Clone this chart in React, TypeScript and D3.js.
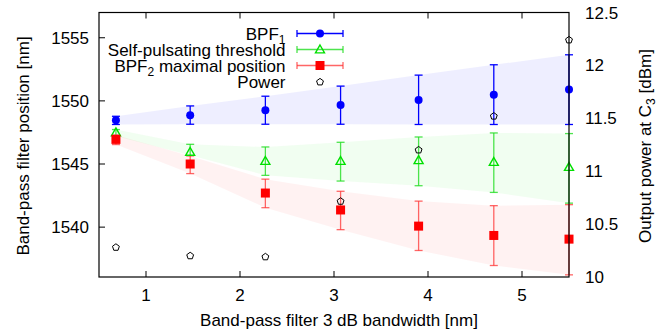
import React from "react";
import * as d3 from "d3";

const bandwidth = [0.68, 1.47, 2.27, 3.07, 3.9, 4.7, 5.5];

const bpf1 = [1548.47, 1548.87, 1549.26, 1549.68, 1550.06, 1550.48, 1550.9];
const bpf1Lo = [1548.13, 1548.15, 1548.15, 1548.15, 1548.13, 1548.13, 1548.13];
const bpf1Hi = [1548.78, 1549.6, 1550.37, 1551.17, 1552.04, 1552.86, 1553.65];

const spt = [1547.5, 1545.95, 1545.24, 1545.24, 1545.3, 1545.16, 1544.76];
const sptLo = [1547.2, 1545.7, 1544.1, 1543.65, 1543.28, 1542.75, 1541.9];
const sptHi = [1547.73, 1546.56, 1546.35, 1546.72, 1547.14, 1547.46, 1547.41];

const bpf2 = [1546.95, 1545.0, 1542.7, 1541.36, 1540.08, 1539.34, 1539.05];
const bpf2Lo = [1546.54, 1544.24, 1541.54, 1539.8, 1538.15, 1536.96, 1536.22];
const bpf2Hi = [1547.3, 1545.64, 1543.8, 1542.84, 1542.06, 1541.7, 1541.78];

const power = [10.28, 10.2, 10.19, 10.715, 11.2, 11.52, 12.24];

const xTicks = [1, 2, 3, 4, 5];
const yTicks = [1540, 1545, 1550, 1555];
const y2Ticks = [10, 10.5, 11, 11.5, 12, 12.5];

const W = 671, H = 330;
const L = 99, R = 569, T = 12.5, B = 277;
const FONT = "'Liberation Sans', Arial, Helvetica, sans-serif";
const FS = 17;

export default function App() {
  const x = d3.scaleLinear().domain([0.5, 5.5]).range([L, R]);
  const y = d3.scaleLinear().domain([1536.05, 1557]).range([B, T]);
  const y2 = d3.scaleLinear().domain([10, 12.5]).range([B, T]);

  const series = [
    { v: bpf1, lo: bpf1Lo, hi: bpf1Hi, color: "#0000ff", bar: "#0000ff", barOp: 1, band: "rgba(0,0,255,0.065)", marker: "circle" },
    { v: spt, lo: sptLo, hi: sptHi, color: "#00e000", bar: "#22dd22", barOp: 0.8, band: "rgba(0,230,0,0.055)", marker: "triangle" },
    { v: bpf2, lo: bpf2Lo, hi: bpf2Hi, color: "#ff0000", bar: "#ff3333", barOp: 0.75, band: "rgba(255,0,0,0.05)", marker: "square" },
  ];

  const area = (lo: number[], hi: number[]) =>
    d3.area<number>()
      .x((_, i) => x(bandwidth[i]))
      .y0((_, i) => y(lo[i]))
      .y1((_, i) => y(hi[i]))(lo.map((_, i) => i)) || "";

  const pentagon = (cx: number, cy: number, r: number) => {
    const pts = d3.range(5).map((k) => {
      const a = -Math.PI / 2 + (k * 2 * Math.PI) / 5;
      return [cx + r * Math.cos(a), cy + r * Math.sin(a)];
    });
    return "M" + pts.map((p) => p.join(",")).join("L") + "Z";
  };

  const marker = (kind: string, cx: number, cy: number, color: string, key: string) => {
    if (kind === "circle") return <circle key={key} cx={cx} cy={cy} r={4} fill={color} />;
    if (kind === "square") return <rect key={key} x={cx - 4.5} y={cy - 4.5} width={9} height={9} fill={color} />;
    const s = 4.5;
    return (
      <path key={key} d={`M${cx},${cy - s}L${cx + s},${cy + s * 0.75}L${cx - s},${cy + s * 0.75}Z`}
        fill="none" stroke={color} strokeWidth={1.4} />
    );
  };

  const legendItems = [
    { label: <>BPF<tspan fontSize={12} dy={4}>1</tspan></>, s: series[0] },
    { label: <>Self-pulsating  threshold</>, s: series[1] },
    { label: <>BPF<tspan fontSize={12} dy={4}>2</tspan><tspan dy={-4}> maximal position</tspan></>, s: series[2] },
  ];
  const legY = [33.5, 49.5, 65.5, 82];
  const legTextX = 285.5, legL = 297, legR = 343, legM = 320;

  return (
    <svg width={W} height={H} style={{ position: "absolute", left: 0, top: 0 }} fontFamily={FONT}>
      <rect width={W} height={H} fill="white" />
      {series.map((s, i) => (
        <path key={"band" + i} d={area(s.lo, s.hi)} fill={s.band} stroke="none" />
      ))}
      {series.map((s, i) =>
        bandwidth.map((bx, j) => {
          const cx = x(bx);
          return (
            <g key={`eb${i}-${j}`} stroke={s.bar} strokeOpacity={s.barOp} strokeWidth={1.3}>
              <line x1={cx} x2={cx} y1={y(s.lo[j])} y2={y(s.hi[j])} />
              <line x1={cx - 4} x2={cx + 4} y1={y(s.lo[j])} y2={y(s.lo[j])} />
              <line x1={cx - 4} x2={cx + 4} y1={y(s.hi[j])} y2={y(s.hi[j])} />
            </g>
          );
        })
      )}
      {series.map((s, i) => bandwidth.map((bx, j) => marker(s.marker, x(bx), y(s.v[j]), s.color, `m${i}-${j}`)))}
      {power.map((p, j) => (
        <path key={"p" + j} d={pentagon(x(bandwidth[j]), y2(p), 3.6)} fill="none" stroke="black" strokeWidth={1} />
      ))}

      {/* frame */}
      <rect x={L} y={T} width={R - L} height={B - T} fill="none" stroke="black" strokeWidth={1.2} />
      {xTicks.map((t) => (
        <g key={"xt" + t}>
          <line x1={x(t)} x2={x(t)} y1={B} y2={B - 6} stroke="black" />
          <line x1={x(t)} x2={x(t)} y1={T} y2={T + 6} stroke="black" />
          <text x={x(t)} y={301} fontSize={FS} textAnchor="middle">{t}</text>
        </g>
      ))}
      {yTicks.map((t) => (
        <g key={"yt" + t}>
          <line x1={L} x2={L + 6} y1={y(t)} y2={y(t)} stroke="black" />
          <text x={89} y={y(t) + 6} fontSize={FS} textAnchor="end">{t}</text>
        </g>
      ))}
      {y2Ticks.map((t) => (
        <text key={"y2" + t} x={585} y={y2(t) + 6} fontSize={FS} textAnchor="start">{t}</text>
      ))}

      <text x={(L + R) / 2 + 5} y={326} fontSize={FS} textAnchor="middle">Band-pass filter 3 dB bandwidth [nm]</text>
      <text transform={`translate(29,146) rotate(-90)`} fontSize={FS} textAnchor="middle">Band-pass filter position [nm]</text>
      <text transform={`translate(651,146) rotate(-90)`} fontSize={FS} textAnchor="middle">
        Output power at C<tspan fontSize={12} dy={4}>3</tspan><tspan dy={-4}> [dBm]</tspan>
      </text>

      {/* legend */}
      {legendItems.map((it, i) => (
        <g key={"leg" + i}>
          <text x={legTextX} y={legY[i] + 6} fontSize={FS} textAnchor="end">{it.label}</text>
          <g stroke={it.s.bar} strokeOpacity={it.s.barOp} strokeWidth={1.3}>
            <line x1={legL} x2={legR} y1={legY[i]} y2={legY[i]} />
            <line x1={legL} x2={legL} y1={legY[i] - 3.5} y2={legY[i] + 3.5} />
            <line x1={legR} x2={legR} y1={legY[i] - 3.5} y2={legY[i] + 3.5} />
          </g>
          {marker(it.s.marker, legM, legY[i], it.s.color, "lm" + i)}
        </g>
      ))}
      <text x={legTextX} y={legY[3] + 6} fontSize={FS} textAnchor="end">Power</text>
      <path d={pentagon(legM, legY[3], 3.6)} fill="none" stroke="black" strokeWidth={1} />
    </svg>
  );
}
